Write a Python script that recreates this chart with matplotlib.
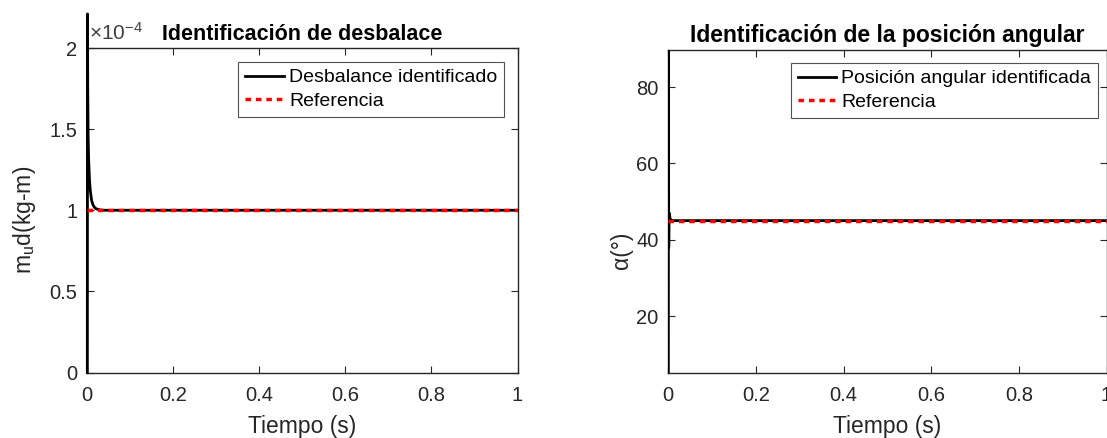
import matplotlib
matplotlib.use("Agg")
import matplotlib.pyplot as plt

plt.rcParams['font.family'] = ['Liberation Sans', 'DejaVu Sans']
plt.rcParams['mathtext.fontset'] = 'custom'
plt.rcParams['mathtext.rm'] = 'Liberation Sans'
plt.rcParams['mathtext.it'] = 'Liberation Sans:italic'

# ---- data (left: unbalance, in units of 1e-4 kg-m) ----
t_left = [0, 0.0005, 0.001, 0.002, 0.003, 0.005, 0.007, 0.01, 0.013, 0.016,
          0.02, 0.025, 0.03, 0.04, 0.06, 1.0]
mud_ident = [0, 2.21, 1.75, 1.45, 1.32, 1.19, 1.12, 1.06, 1.035, 1.02,
             1.01, 1.005, 1.002, 1.0, 1.0, 1.0]
t_ref = [0, 1.0]
mud_ref = [1.0, 1.0]

# ---- data (right: angular position, degrees) ----
t_right = [0, 0.0003, 0.0006, 0.001, 0.0015, 0.002, 0.003, 0.004, 0.006,
           0.008, 0.012, 1.0]
alpha_ident = [5.2, 89.7, 60, 38, 44, 47, 46.5, 45.5, 45.2, 45.0, 45.0, 45.0]
alpha_ref = [45.0, 45.0]

xticks = [0, 0.2, 0.4, 0.6, 0.8, 1]
xticklabels = ['0', '0.2', '0.4', '0.6', '0.8', '1']
left_yticks = [0, 0.5, 1, 1.5, 2]
left_yticklabels = ['0', '0.5', '1', '1.5', '2']
right_yticks = [20, 40, 60, 80]
right_yticklabels = ['20', '40', '60', '80']

W, H = 1107, 438
fig = plt.figure(figsize=(W / 100, H / 100), dpi=100)
ax1 = fig.add_axes([87.3 / W, 1 - 372.5 / H, (517.5 - 87.3) / W, (372.5 - 48) / H])
ax2 = fig.add_axes([668.3 / W, 1 - 372.5 / H, (1106.5 - 668.3) / W, (372.5 - 50) / H])

spine_c = '#262626'
for ax in (ax1, ax2):
    for s in ax.spines.values():
        s.set_color(spine_c)
        s.set_linewidth(1.0)
    ax.tick_params(direction='in', length=5, width=0.8, colors=spine_c,
                   labelsize=14.5, top=True, right=True)
    ax.tick_params(axis='x', pad=10)
    ax.tick_params(axis='y', pad=7)
    ax.set_xlim(0, 1)
    ax.set_xticks(xticks)
    ax.set_xticklabels(xticklabels)
    ax.set_xlabel('Tiempo (s)', fontsize=16.5, color='#262626', labelpad=7)

dots = (0, (1.6, 1.4))

# left
ax1.plot(t_left, mud_ident, color='black', lw=2.0, clip_on=False,
         label='Desbalance identificado', zorder=3)
ax1.plot(t_ref, mud_ref, color='red', lw=2.5, ls=dots,
         label='Referencia', zorder=4)
ax1.set_ylim(0, 2)
ax1.set_yticks(left_yticks)
ax1.set_yticklabels(left_yticklabels)
ax1.set_ylabel(r'm$_\mathregular{u}$d(kg-m)', fontsize=16.5, color='#262626')
ax1.yaxis.set_label_coords(-0.1146, 0.47)
ax1.set_title('Identificación de desbalace', fontsize=15.5, fontweight='bold', pad=6)
ax1.text(0.003, 1.012, r'$\times\mathregular{10^{-4}}$', transform=ax1.transAxes,
         fontsize=15, color='#404040', ha='left', va='bottom')
leg1 = ax1.legend(loc='upper right', bbox_to_anchor=(0.9686, 0.9569),
                  borderaxespad=0, fontsize=14, frameon=True, fancybox=False,
                  edgecolor='#262626', handlelength=2.0, handletextpad=0.25,
                  borderpad=0.35, labelspacing=0.32)
leg1.get_frame().set_linewidth(0.8)

# right
ax2.plot(t_right, alpha_ident, color='black', lw=2.0,
         label='Posición angular identificada', zorder=3)
ax2.plot(t_ref, alpha_ref, color='red', lw=2.5, ls=dots,
         label='Referencia', zorder=4)
ax2.set_ylim(5.2, 89.7)
ax2.set_yticks(right_yticks)
ax2.set_yticklabels(right_yticklabels)
ax2.set_ylabel('α(°)', fontsize=16.5, color='#262626')
ax2.yaxis.set_label_coords(-0.08, 0.38)
ax2.set_title('Identificación de la posición angular', fontsize=16.5,
              fontweight='bold', pad=6)
leg2 = ax2.legend(loc='upper right', bbox_to_anchor=(0.9806, 0.9597),
                  borderaxespad=0, fontsize=14, frameon=True, fancybox=False,
                  edgecolor='#262626', handlelength=2.0, handletextpad=0.25,
                  borderpad=0.35, labelspacing=0.32)
leg2.get_frame().set_linewidth(0.8)

fig.savefig('out.png', dpi=100)
